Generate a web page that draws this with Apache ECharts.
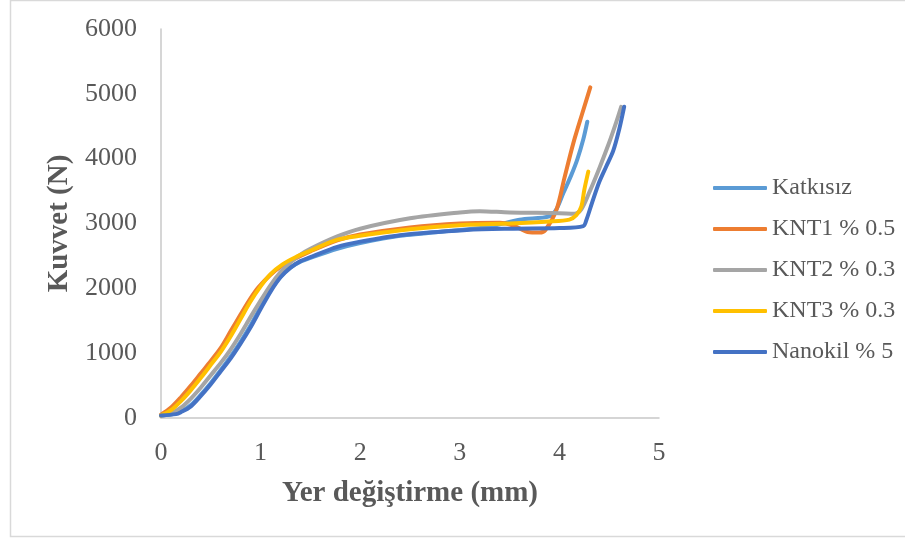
<!DOCTYPE html>
<html>
<head>
<meta charset="utf-8">
<script src="https://cdn.jsdelivr.net/npm/echarts@6/dist/echarts.min.js"></script>
<style>
  html, body { margin: 0; padding: 0; background: #ffffff; }
  #chart { width: 905px; height: 539px; }
</style>
</head>
<body>
<div id="chart"></div>
<script>
// Force–displacement curves, one [mm, N] list per specimen
const seriesNames = ['Katkısız', 'KNT1 % 0.5', 'KNT2 % 0.3', 'KNT3 % 0.3', 'Nanokil % 5'];

const katkisiz = [
  [0, 40], [0.15, 70], [0.2, 100], [0.3, 200], [0.4, 360], [0.5, 540], [0.6, 740],
  [0.7, 950], [0.8, 1180], [0.9, 1430], [1.0, 1710], [1.1, 1970], [1.2, 2180],
  [1.3, 2320], [1.4, 2410], [1.5, 2470], [1.77, 2610], [2.0, 2700], [2.4, 2810],
  [3.0, 2900], [3.3, 2950], [3.6, 3060], [3.9, 3110], [3.97, 3220], [4.04, 3470],
  [4.12, 3750], [4.18, 3990], [4.24, 4300], [4.28, 4570]
];

const knt1 = [
  [0, 50], [0.1, 160], [0.2, 320], [0.3, 500], [0.4, 690], [0.5, 880], [0.6, 1080],
  [0.7, 1340], [0.8, 1600], [0.9, 1850], [0.98, 2020], [1.1, 2210], [1.2, 2330],
  [1.35, 2460], [1.5, 2570], [1.77, 2740], [2.0, 2830], [2.5, 2940], [3.0, 3000],
  [3.4, 3010], [3.55, 2960], [3.68, 2870], [3.8, 2860], [3.86, 2900], [3.97, 3210],
  [4.05, 3700], [4.14, 4240], [4.23, 4700], [4.31, 5100]
];

const knt2 = [
  [0, 30], [0.1, 70], [0.2, 160], [0.3, 300], [0.4, 470], [0.5, 660], [0.6, 850],
  [0.7, 1060], [0.8, 1300], [0.9, 1560], [1.0, 1810], [1.1, 2050], [1.2, 2250],
  [1.3, 2400], [1.4, 2520], [1.5, 2610], [1.77, 2800], [2.0, 2920], [2.5, 3080],
  [3.0, 3170], [3.2, 3190], [3.5, 3170], [4.0, 3160], [4.15, 3150], [4.22, 3220],
  [4.3, 3480], [4.4, 3850], [4.5, 4250], [4.57, 4560], [4.62, 4800]
];

const knt3 = [
  [0, 40], [0.1, 120], [0.2, 260], [0.3, 430], [0.4, 620], [0.5, 820], [0.6, 1020],
  [0.7, 1260], [0.8, 1530], [0.9, 1800], [1.0, 2030], [1.1, 2220], [1.22, 2370],
  [1.35, 2480], [1.5, 2580], [1.77, 2750], [2.0, 2810], [2.5, 2910], [3.07, 2980],
  [3.5, 3000], [3.9, 3030], [4.1, 3060], [4.17, 3130], [4.22, 3260], [4.25, 3520],
  [4.29, 3800]
];

const nanokil = [
  [0, 40], [0.15, 60], [0.2, 90], [0.3, 180], [0.4, 340], [0.5, 520], [0.6, 720],
  [0.7, 920], [0.8, 1150], [0.9, 1400], [1.0, 1680], [1.1, 1950], [1.2, 2170],
  [1.3, 2320], [1.4, 2420], [1.5, 2480], [1.77, 2640], [2.0, 2720], [2.4, 2820],
  [3.07, 2900], [3.5, 2920], [4.0, 2930], [4.24, 2960], [4.27, 3050], [4.33, 3330],
  [4.4, 3640], [4.47, 3880], [4.54, 4120], [4.6, 4450], [4.65, 4800]
];

const seriesData = [katkisiz, knt1, knt2, knt3, nanokil];
const seriesColors = ['#5B9BD5', '#ED7D31', '#A5A5A5', '#FFC000', '#4472C4'];

const xTitle = 'Yer değiştirme (mm)';
const yTitle = 'Kuvvet (N)';

const serif = '"Liberation Serif", "Times New Roman", serif';

const chart = echarts.init(document.getElementById('chart'));

chart.setOption({
  backgroundColor: '#ffffff',
  animation: false,
  graphic: [{
    type: 'rect',
    shape: { x: 10.5, y: 0.5, width: 900, height: 536 },
    style: { fill: 'none', stroke: '#d9d9d9', lineWidth: 1.5 },
    silent: true
  }],
  grid: { left: 161, right: 246, top: 29, bottom: 121 },
  legend: {
    orient: 'vertical',
    left: 708,
    top: 171,
    itemWidth: 54,
    itemHeight: 4,
    itemGap: 17,
    icon: 'roundRect',
    textStyle: { fontFamily: serif, fontSize: 24, color: '#595959', lineHeight: 22 },
    data: seriesNames
  },
  xAxis: {
    type: 'value',
    min: 0, max: 5, interval: 1,
    name: xTitle,
    nameLocation: 'middle',
    nameGap: 61,
    nameTextStyle: { fontFamily: serif, fontSize: 29, fontWeight: 'bold', color: '#595959' },
    axisLine: { show: true, lineStyle: { color: '#c8c8c8', width: 1.5 } },
    axisTick: { show: false },
    splitLine: { show: false },
    axisLabel: { fontFamily: serif, fontSize: 26, color: '#595959', margin: 22 }
  },
  yAxis: {
    type: 'value',
    min: 0, max: 6000, interval: 1000,
    name: yTitle,
    nameLocation: 'middle',
    nameGap: 75,
    nameTextStyle: { fontFamily: serif, fontSize: 29, fontWeight: 'bold', color: '#595959' },
    axisLine: { show: true, lineStyle: { color: '#c8c8c8', width: 1.5 } },
    axisTick: { show: false },
    splitLine: { show: false },
    axisLabel: {
      fontFamily: serif, fontSize: 26, color: '#595959', margin: 24,
      formatter: (v) => String(v)
    }
  },
  series: seriesNames.map((name, i) => ({
    name: name,
    type: 'line',
    data: seriesData[i],
    showSymbol: false,
    smooth: 0.3,
    lineStyle: { width: 4, color: seriesColors[i], cap: 'round', join: 'round' },
    itemStyle: { color: seriesColors[i] }
  }))
});
</script>
</body>
</html>
